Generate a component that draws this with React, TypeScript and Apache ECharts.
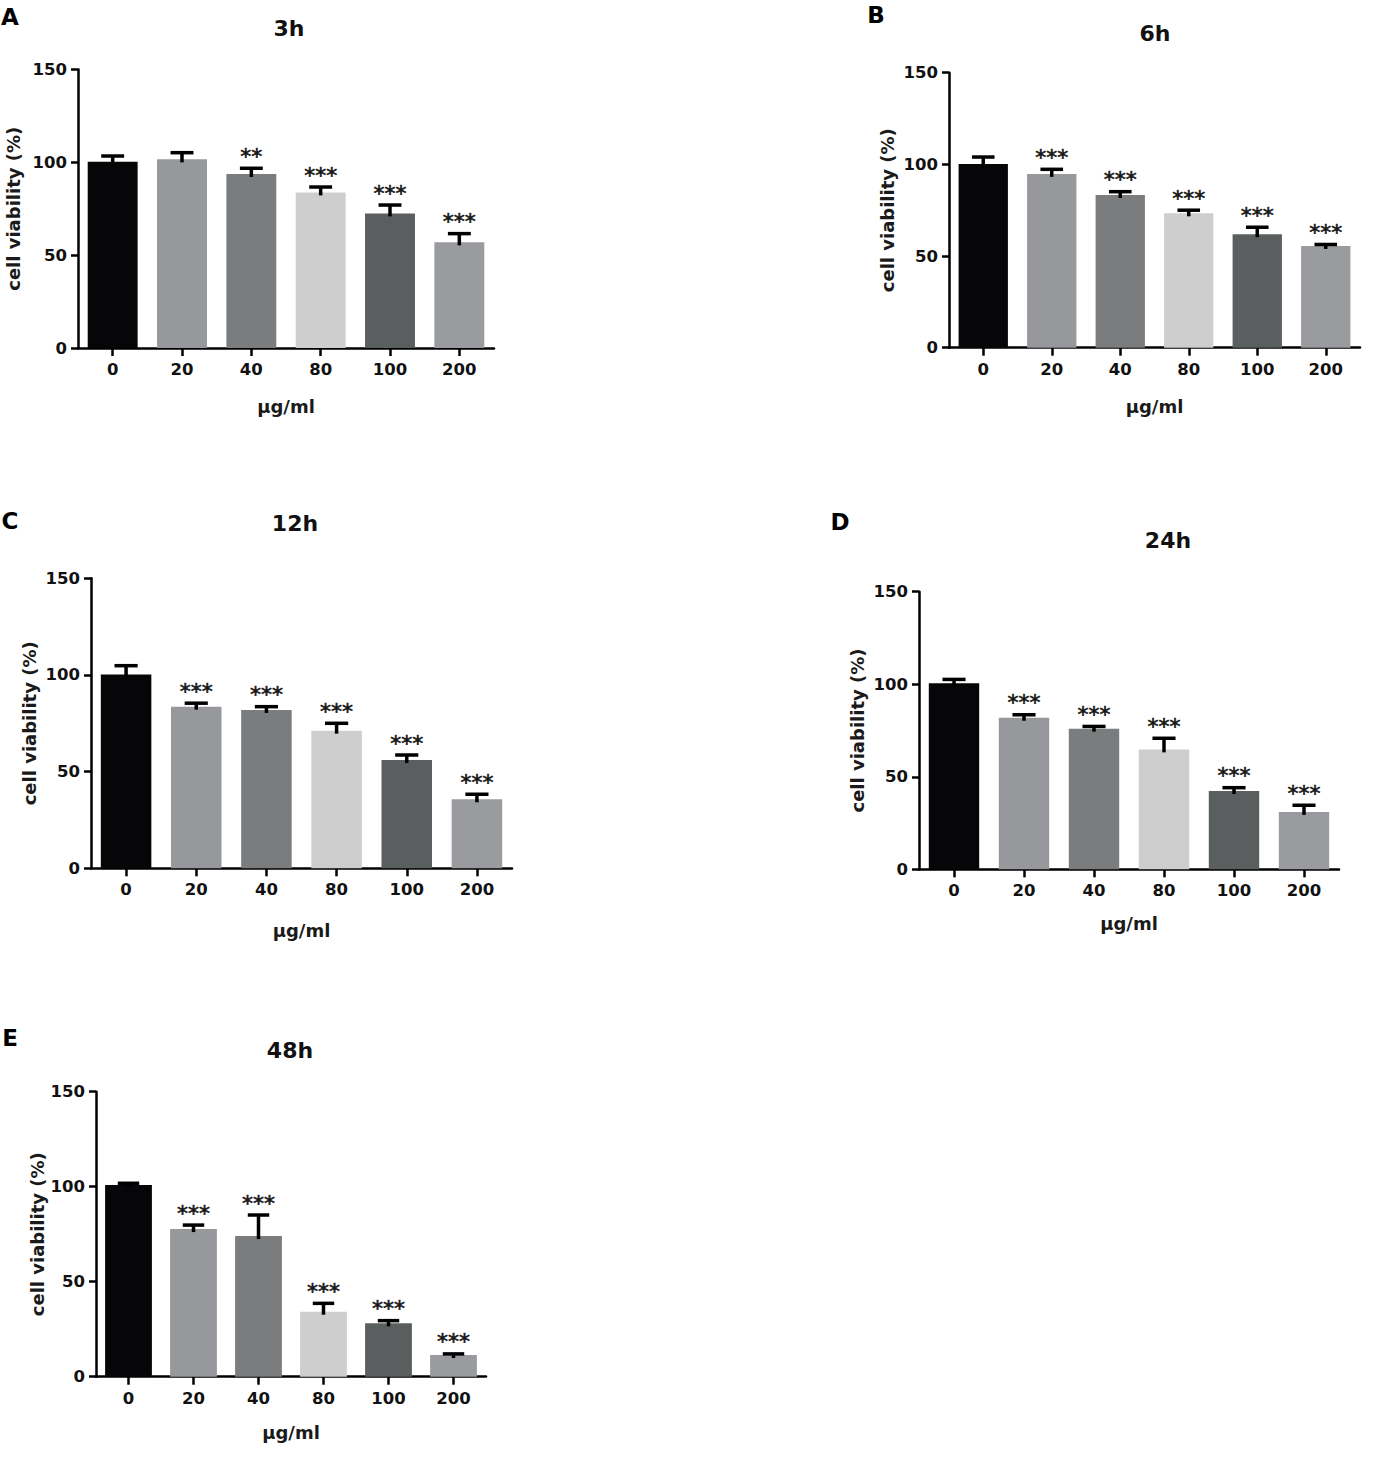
import React, { useEffect, useRef } from "react";
import * as echarts from "echarts";

const categories = ["0", "20", "40", "80", "100", "200"];
const barColors = ["#060609", "#97989c", "#7a7c7d", "#cdcecd", "#5b5e5f", "#9a9b9e"];

const means3h = [100.3, 101.6, 93.7, 83.8, 72.5, 56.9];
const err3h = [3.1, 3.6, 3.1, 2.9, 4.5, 4.7];
const sig3h = ["", "", "**", "***", "***", "***"];

const means6h = [100.2, 94.8, 83.3, 73.3, 61.9, 55.5];
const err6h = [3.8, 2.5, 1.8, 1.7, 3.8, 0.8];
const sig6h = ["", "***", "***", "***", "***", "***"];

const means12h = [100.3, 83.6, 81.9, 71.2, 56.0, 35.7];
const err12h = [4.5, 1.8, 1.7, 3.8, 2.6, 2.6];
const sig12h = ["", "***", "***", "***", "***", "***"];

const means24h = [100.5, 81.9, 76.0, 64.8, 42.3, 31.0];
const err24h = [2.1, 1.6, 1.2, 6.0, 1.8, 3.6];
const sig24h = ["", "***", "***", "***", "***", "***"];

const means48h = [100.9, 77.7, 74.0, 34.2, 28.1, 11.4];
const err48h = [0.9, 2.1, 11.1, 4.4, 1.4, 0.6];
const sig48h = ["", "***", "***", "***", "***", "***"];

const yTicks = { min: 0, max: 150, interval: 50 };
const xName = "µg/ml";
const yName = "cell viability (%)";

const FONT = '"DejaVu Sans", "Liberation Sans", Arial, sans-serif';

type Panel = {
  letter: string;
  title: string;
  means: number[];
  errs: number[];
  sigs: string[];
  grid: { left: number; top: number; width: number; height: number };
  yGap: number;
  xGap: number;
  letterPos: [number, number];
  titlePos: [number, number];
};

const panels: Panel[] = [
  {
    letter: "A", title: "3h", means: means3h, errs: err3h, sigs: sig3h,
    grid: { left: 78, top: 69.5, width: 416, height: 278.5 },
    yGap: 65, xGap: 58, letterPos: [10, 17], titlePos: [289, 28],
  },
  {
    letter: "B", title: "6h", means: means6h, errs: err6h, sigs: sig6h,
    grid: { left: 949, top: 72.7, width: 411, height: 275 },
    yGap: 62, xGap: 59, letterPos: [876, 15], titlePos: [1155, 33],
  },
  {
    letter: "C", title: "12h", means: means12h, errs: err12h, sigs: sig12h,
    grid: { left: 91, top: 578.3, width: 421, height: 290 },
    yGap: 62, xGap: 62, letterPos: [10, 521], titlePos: [295, 523],
  },
  {
    letter: "D", title: "24h", means: means24h, errs: err24h, sigs: sig24h,
    grid: { left: 919, top: 591.7, width: 420, height: 277.6 },
    yGap: 62, xGap: 54, letterPos: [840, 522], titlePos: [1168, 540],
  },
  {
    letter: "E", title: "48h", means: means48h, errs: err48h, sigs: sig48h,
    grid: { left: 96, top: 1091.7, width: 390, height: 285 },
    yGap: 57, xGap: 56, letterPos: [10, 1038], titlePos: [290, 1050],
  },
];

function buildOption() {
  const grids: any[] = [];
  const xAxes: any[] = [];
  const yAxes: any[] = [];
  const series: any[] = [];
  const graphics: any[] = [];

  panels.forEach((p, i) => {
    grids.push({ ...p.grid, containLabel: false });
    xAxes.push({
      type: "category",
      gridIndex: i,
      data: categories,
      name: xName,
      nameLocation: "middle",
      nameGap: p.xGap,
      nameTextStyle: { fontFamily: FONT, fontSize: 18, fontWeight: "bold", color: "#1a1a1a", verticalAlign: "middle" },
      axisLine: { show: true, lineStyle: { color: "#000", width: 2.5 } },
      axisTick: { show: true, alignWithLabel: true, length: 8, lineStyle: { color: "#000", width: 2.5 } },
      axisLabel: { margin: 13, fontFamily: FONT, fontSize: 16.5, fontWeight: "bold", color: "#111" },
      splitLine: { show: false },
    });
    yAxes.push({
      type: "value",
      gridIndex: i,
      min: yTicks.min,
      max: yTicks.max,
      interval: yTicks.interval,
      name: yName,
      nameLocation: "middle",
      nameGap: p.yGap,
      nameRotate: 90,
      nameTextStyle: { fontFamily: FONT, fontSize: 18, fontWeight: "bold", color: "#1a1a1a", verticalAlign: "middle", align: "center" },
      axisLine: { show: true, lineStyle: { color: "#000", width: 2.5 } },
      axisTick: { show: true, length: 7, lineStyle: { color: "#000", width: 2.5 } },
      axisLabel: { margin: 11, fontFamily: FONT, fontSize: 16.5, fontWeight: "bold", color: "#111" },
      splitLine: { show: false },
    });
    series.push({
      type: "bar",
      xAxisIndex: i,
      yAxisIndex: i,
      data: p.means,
      barWidth: "72%",
      itemStyle: { color: (params: any) => barColors[params.dataIndex] },
      z: 2,
    });
    const sigs = p.sigs;
    series.push({
      type: "custom",
      xAxisIndex: i,
      yAxisIndex: i,
      z: 5,
      data: p.means.map((m, k) => [k, m, p.errs[k]]),
      renderItem: (params: any, api: any) => {
        const idx = api.value(0);
        const m = api.value(1);
        const e = api.value(2);
        const top = api.coord([idx, m]);
        const cap = api.coord([idx, m + e]);
        const band = api.size([1, 0])[0];
        const capW = band * 0.33;
        const x = top[0];
        const children: any[] = [
          {
            type: "line",
            shape: { x1: x, y1: top[1] + 3, x2: x, y2: cap[1] },
            style: { stroke: "#000", lineWidth: 3.5 },
          },
          {
            type: "line",
            shape: { x1: x - capW / 2, y1: cap[1], x2: x + capW / 2, y2: cap[1] },
            style: { stroke: "#000", lineWidth: 3.5 },
          },
        ];
        const s = sigs[params.dataIndex];
        if (s) {
          children.push({
            type: "text",
            x: x,
            y: cap[1] - 12,
            style: {
              text: s,
              fontFamily: FONT,
              fontSize: 22,
              fontWeight: "normal",
              fill: "#151515",
              stroke: "#151515",
              lineWidth: 0.6,
              align: "center",
              verticalAlign: "middle",
            },
          });
        }
        return { type: "group", children };
      },
    });
    graphics.push({
      type: "text",
      x: p.letterPos[0],
      y: p.letterPos[1],
      style: {
        text: p.letter, fontFamily: FONT, fontSize: 23, fontWeight: "bold", fill: "#000",
        align: "center", verticalAlign: "middle",
      },
    });
    graphics.push({
      type: "text",
      x: p.titlePos[0],
      y: p.titlePos[1],
      style: {
        text: p.title, fontFamily: FONT, fontSize: 22, fontWeight: "bold", fill: "#111",
        align: "center", verticalAlign: "middle",
      },
    });
  });

  return {
    animation: false,
    backgroundColor: "#ffffff",
    grid: grids,
    xAxis: xAxes,
    yAxis: yAxes,
    series,
    graphic: graphics,
  };
}

export default function App() {
  const ref = useRef<HTMLDivElement>(null);
  useEffect(() => {
    document.body.style.margin = "0";
    if (!ref.current) return;
    const chart = echarts.init(ref.current, undefined, { renderer: "svg" });
    chart.setOption(buildOption());
    return () => {
      chart.dispose();
    };
  }, []);
  return <div ref={ref} style={{ width: 1373, height: 1458, background: "#fff" }} />;
}
